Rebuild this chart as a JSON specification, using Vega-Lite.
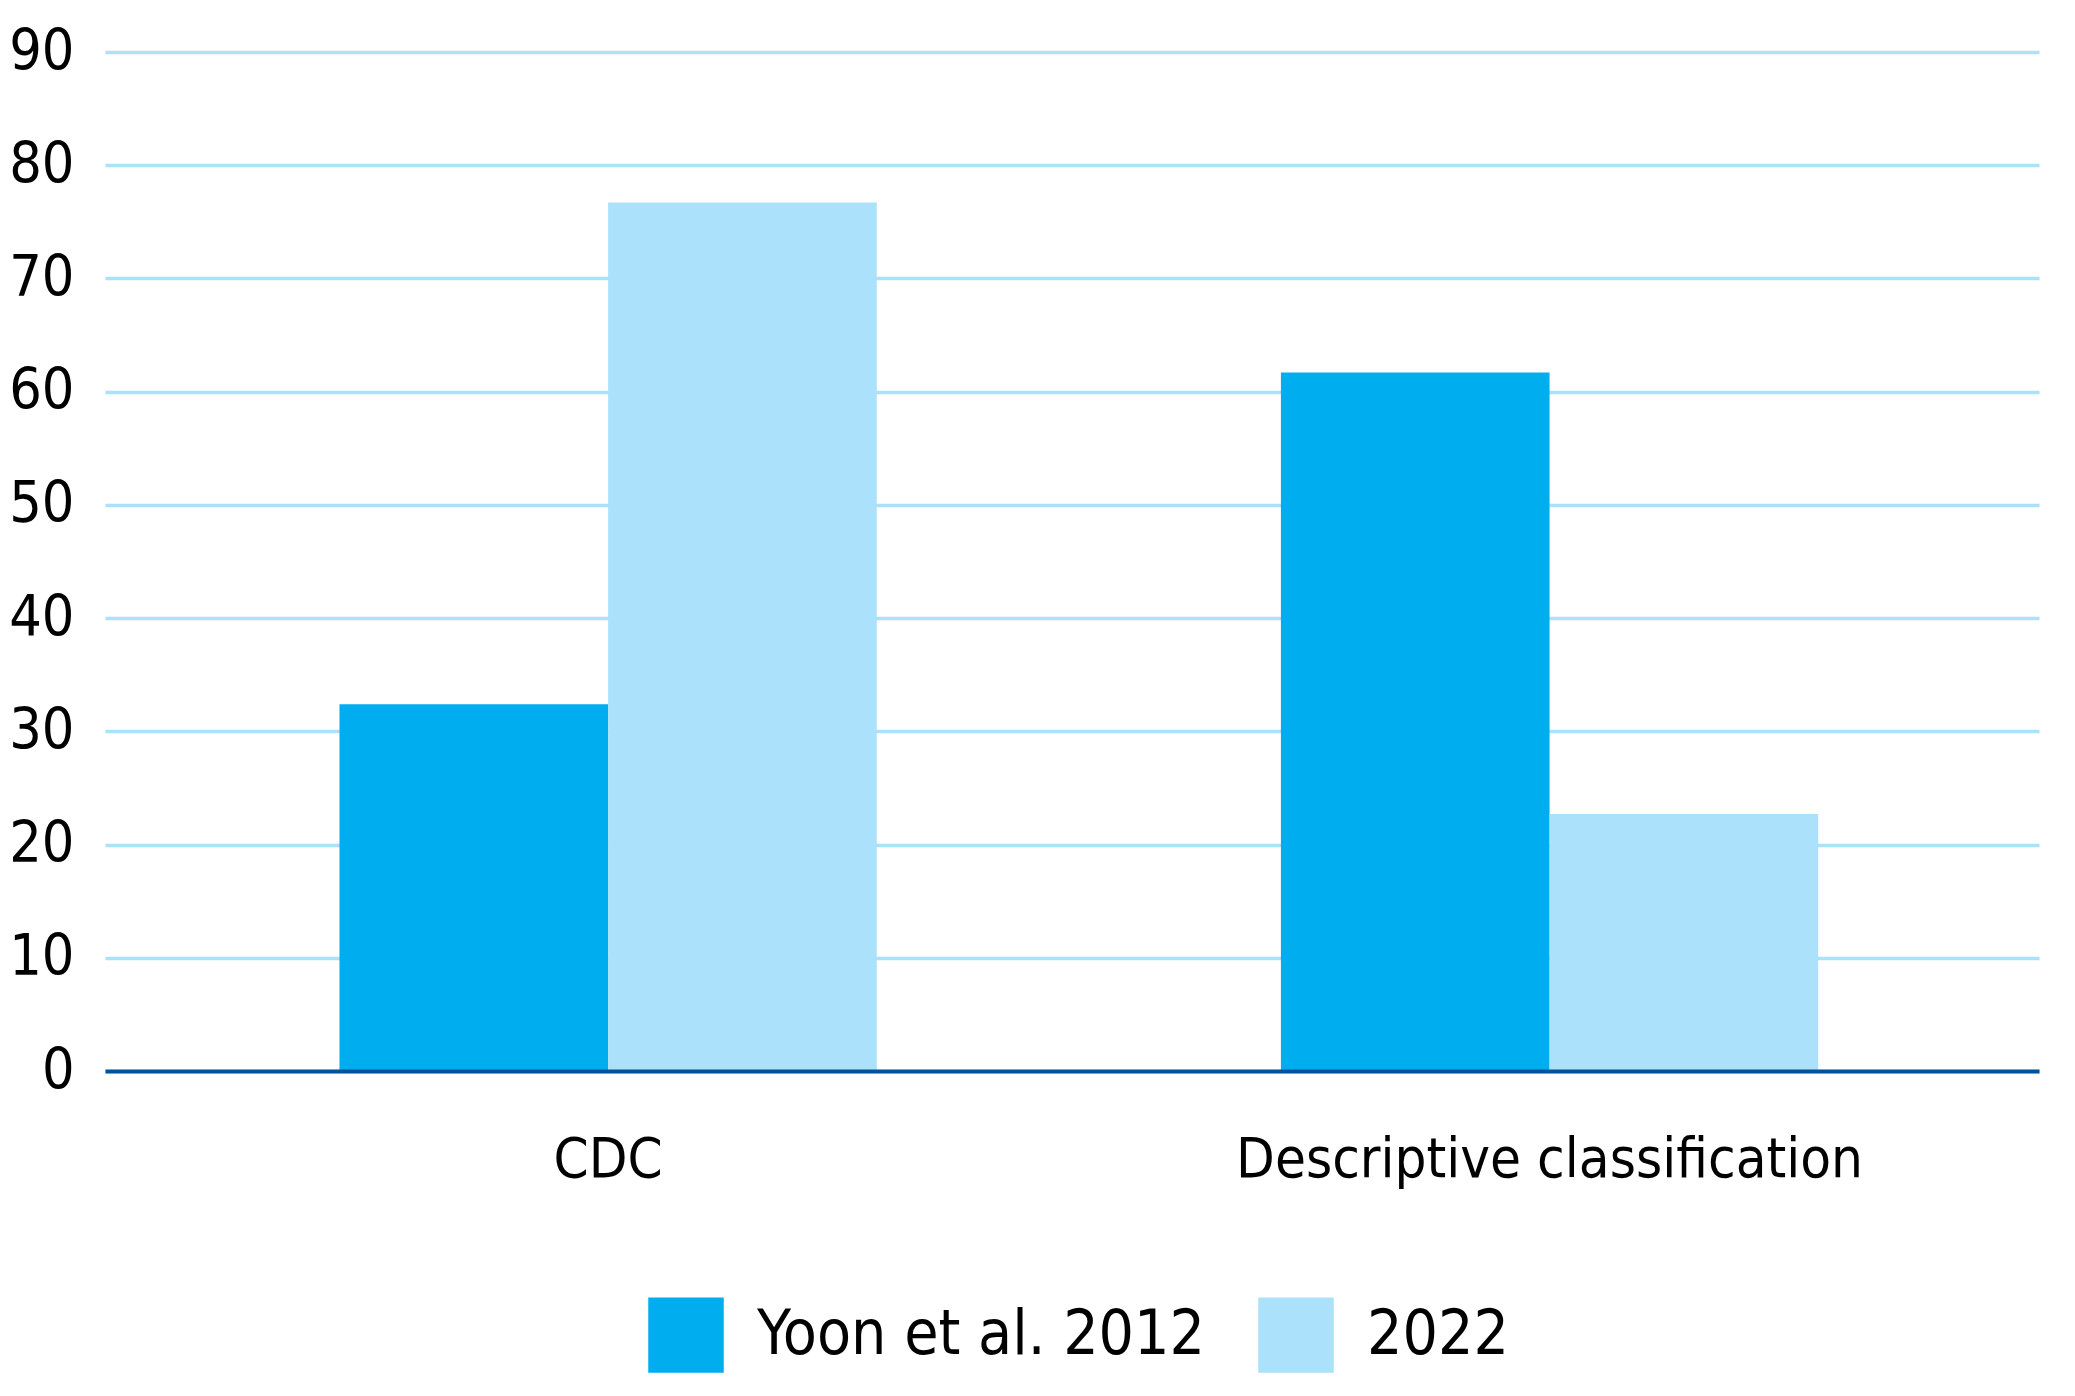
{
  "$schema": "https://vega.github.io/schema/vega-lite/v6.json",
  "width": 1934,
  "height": 1019,
  "autosize": {"type": "none"},
  "padding": {"left": 105, "top": 52, "right": 36, "bottom": 325},
  "background": "white",
  "config": {
    "view": {"stroke": null},
    "font": "DejaVu Sans Condensed",
    "axis": {"labelFont": "DejaVu Sans Condensed", "labelColor": "#000000"},
    "legend": {"labelFont": "DejaVu Sans Condensed", "labelColor": "#000000"}
  },
  "data": {
    "values": [
      {"category": "CDC", "series": "Yoon et al. 2012", "value": 32.4},
      {"category": "CDC", "series": "2022", "value": 76.7},
      {"category": "Descriptive classification", "series": "Yoon et al. 2012", "value": 61.7},
      {"category": "Descriptive classification", "series": "2022", "value": 22.7}
    ]
  },
  "mark": {"type": "bar"},
  "encoding": {
    "x": {
      "field": "category",
      "type": "nominal",
      "sort": null,
      "scale": {"paddingInner": 0.4293, "paddingOuter": 0.2418, "align": 0.515, "round": false},
      "axis": {
        "title": null,
        "labelAngle": 0,
        "labelFontSize": 56,
        "labelPadding": 61,
        "labelLimit": 2000,
        "ticks": false,
        "domainColor": "#00539b",
        "domainWidth": 4,
        "domainCap": "butt",
        "grid": false,
        "zindex": 1
      }
    },
    "xOffset": {
      "field": "series",
      "type": "nominal",
      "sort": ["Yoon et al. 2012", "2022"],
      "scale": {"paddingInner": 0, "paddingOuter": 0}
    },
    "y": {
      "field": "value",
      "type": "quantitative",
      "scale": {"domain": [0, 90], "nice": false},
      "axis": {
        "title": null,
        "values": [0, 10, 20, 30, 40, 50, 60, 70, 80, 90],
        "labelFontSize": 57,
        "labelPadding": 31,
        "ticks": false,
        "domain": false,
        "grid": true,
        "gridColor": "#abe1fa",
        "gridWidth": 3.5,
        "gridOpacity": 1
      }
    },
    "color": {
      "field": "series",
      "type": "nominal",
      "scale": {"domain": ["Yoon et al. 2012", "2022"], "range": ["#00aeef", "#abe1fa"]},
      "legend": {
        "title": null,
        "orient": "none",
        "legendX": 543,
        "legendY": 1245,
        "direction": "horizontal",
        "symbolType": "square",
        "symbolSize": 5700,
        "symbolStrokeWidth": 0,
        "symbolOpacity": 1,
        "labelFontSize": 62,
        "labelOffset": 33,
        "columnPadding": 52,
        "labelLimit": 1000
      }
    }
  }
}
